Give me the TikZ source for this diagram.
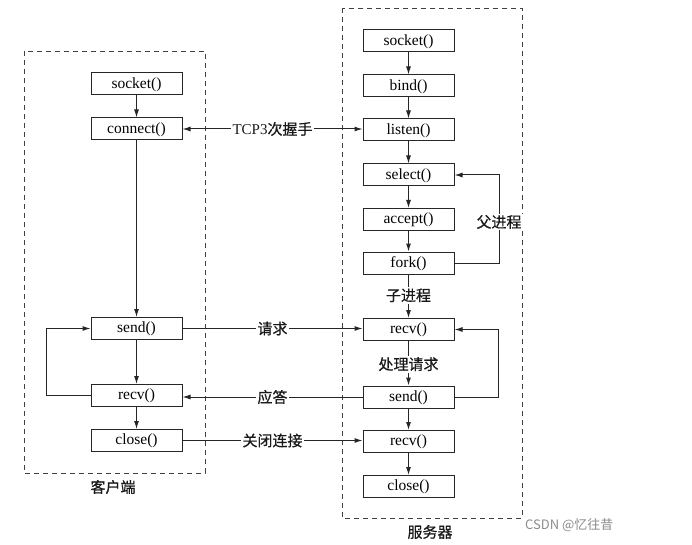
\documentclass[tikz,border=0pt]{standalone}
\usepackage{fontspec}
\setmainfont{Liberation Serif}
\newfontfamily\cjk[FakeBold=0.6]{Noto Sans CJK SC}
\newfontfamily\cjkwm{Noto Sans CJK SC}
\usetikzlibrary{arrows.meta}
\begin{document}
\begin{tikzpicture}[x=1pt,y=-1pt,
  fn/.style={draw=black!85, line width=1pt, minimum width=91pt, minimum height=22pt, inner sep=0pt, text height=11pt, text depth=2.8pt, font=\fontsize{15.5}{16}\selectfont},
  arr/.style={-{Latex[length=8pt,width=5pt]}, line width=1pt, draw=black!85},
  dbl/.style={{Latex[length=8pt,width=5pt]}-{Latex[length=8pt,width=5pt]}, line width=1pt, draw=black!85},
  lab/.style={fill=white, inner sep=1.5pt, font=\fontsize{15}{16}\selectfont, text=black!90},
  grp/.style={draw=black!75, dash pattern=on 5pt off 4pt, line width=0.9pt}]
\useasboundingbox[fill=white] (0,0) rectangle (692,545);

% group frames
\draw[grp] (24,51) rectangle (205,473);
\draw[grp] (342,8) rectangle (522,518);
\node[lab] (gc) at (113,487) {\cjk 客户端};
\node[lab] (gs) at (430,532) {\cjk 服务器};

% client
\node[fn] (csock) at (136.5,84) {socket()};
\node[fn] (cconn) at (136.5,129) {connect()};
\node[fn] (csend) at (136.5,328.5) {send()};
\node[fn] (crecv) at (136.5,395.5) {recv()};
\node[fn] (cclose) at (136.5,440.5) {close()};

% server
\node[fn] (ssock) at (408.5,41) {socket()};
\node[fn] (sbind) at (408.5,86) {bind()};
\node[fn] (slist) at (408.5,130) {listen()};
\node[fn] (ssel) at (408.5,175) {select()};
\node[fn] (sacc) at (408.5,219.5) {accept()};
\node[fn] (sfork) at (408.5,263) {fork()};
\node[fn] (srecv) at (408.5,329.5) {recv()};
\node[fn] (ssend) at (408.5,397) {send()};
\node[fn] (srecvb) at (408.5,441.5) {recv()};
\node[fn] (sclose) at (408.5,486.5) {close()};

% client flow
\draw[arr] (csock) -- (cconn);
\draw[arr] (cconn) -- (csend);
\draw[arr] (csend) -- (crecv);
\draw[arr] (crecv) -- (cclose);
\draw[arr] (crecv.west) -- ++(-44,0) |- (csend.west);

% server flow
\draw[arr] (ssock) -- (sbind);
\draw[arr] (sbind) -- (slist);
\draw[arr] (slist) -- (ssel);
\draw[arr] (ssel) -- (sacc);
\draw[arr] (sacc) -- (sfork);
\draw[arr] (sfork.east) -- ++(45,0) coordinate (pc) |- (ssel.east);
\node[lab] (plab) at (499,222) {\cjk 父进程};
\draw[arr] (sfork) -- node[lab,pos=0.48] (clab) {\cjk 子进程} (srecv);
\draw[arr] (srecv) -- node[lab,pos=0.52] (hlab) {\cjk 处理请求} (ssend);
\draw[arr] (ssend.east) -- ++(44,0) |- (srecv.east);
\draw[arr] (ssend) -- (srecvb);
\draw[arr] (srecvb) -- (sclose);

% messages
\draw[dbl] (cconn.east) -- node[lab] (t1) {TCP3{\cjk 次握手}} (cconn.east -| slist.west);
\draw[arr] (csend.east) -- node[lab] (t2) {\cjk 请求} (csend.east -| srecv.west);
\draw[arr] (ssend.west) -- node[lab] (t3) {\cjk 应答} (ssend.west -| crecv.east);
\draw[arr] (cclose.east) -- node[lab] (t4) {\cjk 关闭连接} (cclose.east -| srecvb.west);

% watermark
\node[anchor=west, inner sep=0pt, font=\cjkwm\fontsize{13}{13}\selectfont, text=black!45] (wm) at (525,525) {CSDN @忆往昔};
\end{tikzpicture}
\end{document}
